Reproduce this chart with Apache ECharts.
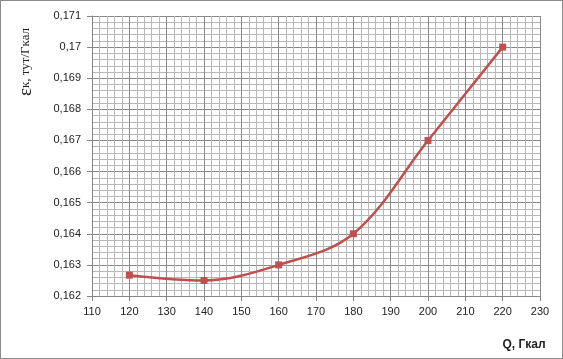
<!DOCTYPE html>
<html><head><meta charset="utf-8">
<script src="https://cdn.jsdelivr.net/npm/echarts@6/dist/echarts.min.js"></script>
<style>html,body{margin:0;padding:0;background:#fff}#c{width:561px;height:357px;border:1px solid #8c8c8c}</style>
</head><body><div id="c"></div>
<script>
const qValues = [120, 140, 160, 180, 200, 220];
const epsValues = [0.16267, 0.1625, 0.163, 0.164, 0.167, 0.170];
const xTitle = 'Q, Гкал';
const yTitleSymbol = 'ε';
const yTitleRest = 'к, тут/Гкал';

const chart = echarts.init(document.getElementById('c'), null, {renderer: 'canvas'});
const fmtY = v => String(Math.round(v * 1000) / 1000).replace('.', ',');
chart.setOption({
  animation: false,
  grid: {left: 91, right: 22, top: 15, bottom: 62},
  xAxis: {
    type: 'value', min: 110, max: 230, interval: 10,
    axisLine: {lineStyle: {color: '#868686', width: 1}},
    axisTick: {show: true, length: 5, lineStyle: {color: '#868686'}},
    axisLabel: {color: '#222', fontFamily: 'Liberation Sans', fontSize: 11, margin: 10},
    splitLine: {show: true, lineStyle: {color: '#8a8a8a', width: 1}},
    minorTick: {show: false, splitNumber: 5},
    minorSplitLine: {show: true, lineStyle: {color: '#b8b8b8', width: 1}}
  },
  yAxis: {
    type: 'value', min: 0.162, max: 0.171, interval: 0.001,
    axisLine: {show: true, lineStyle: {color: '#868686', width: 1}},
    axisTick: {show: true, length: 5, lineStyle: {color: '#868686'}},
    axisLabel: {color: '#222', fontFamily: 'Liberation Sans', fontSize: 11, margin: 11, formatter: fmtY},
    splitLine: {show: true, lineStyle: {color: '#8a8a8a', width: 1}},
    minorTick: {show: false, splitNumber: 5},
    minorSplitLine: {show: true, lineStyle: {color: '#b8b8b8', width: 1}}
  },
  series: [{
    type: 'line', smooth: 0.35,
    data: qValues.map((q, i) => [q, epsValues[i]]),
    symbol: 'rect', symbolSize: 7,
    lineStyle: {color: '#c0504d', width: 2.5},
    itemStyle: {color: '#c0504d'}
  }],
  graphic: [
    {type: 'text', x: 25, y: 61, rotation: Math.PI / 2,
     style: {text: '{a|' + yTitleSymbol + '}{b|' + yTitleRest + '}', align: 'center', verticalAlign: 'middle',
       rich: {a: {fontFamily: 'Liberation Serif', fontSize: 19, fill: '#222'}, b: {fontFamily: 'Liberation Serif', fontSize: 13, fill: '#222'}}}},
    {type: 'text', x: 523, y: 344,
     style: {text: xTitle, align: 'center', verticalAlign: 'middle', fontFamily: 'Liberation Sans', fontWeight: 'bold', fontSize: 12, fill: '#222'}}
  ]
});
</script></body></html>
